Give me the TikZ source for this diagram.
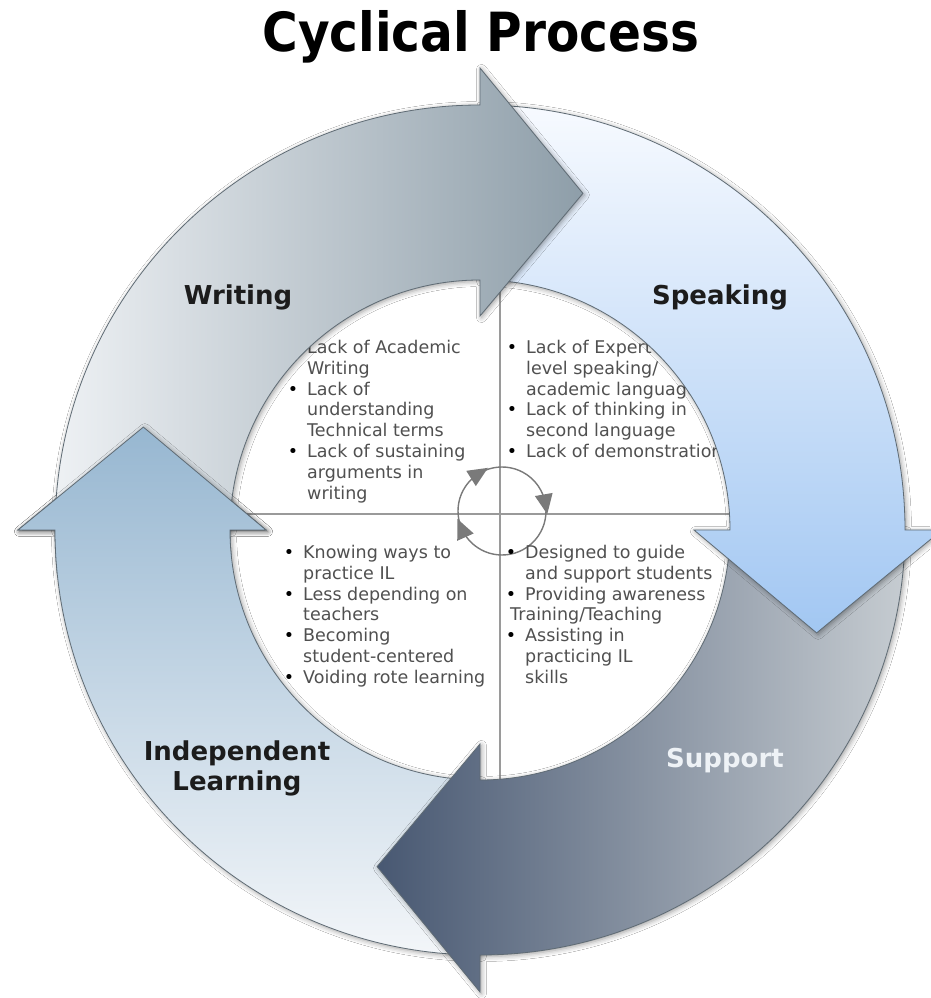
\documentclass[tikz,border=0pt]{standalone}
\usepackage{fontspec}
\setmainfont{DejaVu Sans}
\newfontfamily\titlefont{DejaVu Sans Condensed}
\usetikzlibrary{shadows.blur,calc}
\definecolor{outl}{HTML}{5F6B74}
\definecolor{bodytxt}{HTML}{505050}
\definecolor{lbltxt}{HTML}{1C1C1C}
\definecolor{sutxt}{HTML}{EEF2F6}
\definecolor{wrL}{HTML}{EEF1F4}
\definecolor{wrR}{HTML}{8E9EA9}
\definecolor{spT}{HTML}{F7FAFF}
\definecolor{spB}{HTML}{A2C7F2}
\definecolor{suL}{HTML}{485872}
\definecolor{suR}{HTML}{C6CCD1}
\definecolor{ilT}{HTML}{97B7D1}
\definecolor{ilB}{HTML}{F3F6F9}
\definecolor{crossc}{HTML}{9A9A9A}
\definecolor{cycc}{HTML}{7A7A7A}
\newcommand\bl{\llap{\textcolor{black}{•}\hspace{9pt}}}
\begin{document}
\begin{tikzpicture}[x=1pt,y=1pt,
  arrowshape/.style 2 args={insert path={(#1:425) arc[start angle=#1,end angle=#2,radius=425] -- (#2:462) -- ({#2-17}:352) -- (#2:214) -- (#2:250) arc[start angle=#2,end angle=#1,radius=250] -- cycle}},
  softshadow/.style={blur shadow={shadow xshift=1.5pt, shadow yshift=-1.5pt, shadow blur radius=5pt, shadow opacity=40}},
  arrowline/.style={draw=outl, line width=0.8pt},
  arrowbase/.style={arrowline, softshadow},
  wrarrow/.style={arrowbase, left color=wrL, right color=wrR},
  sparrow/.style={arrowbase, top color=spT, bottom color=spB},
  suarrow/.style={arrowbase, left color=suL, right color=suR},
  ilfill/.style={arrowline, top color=ilT, bottom color=ilB},
  ilarrow/.style={ilfill, softshadow},
  body/.style={anchor=base west, inner sep=0pt, font=\fontsize{17.5}{21}\selectfont, text=bodytxt},
  lbl/.style={font=\fontsize{26}{30}\selectfont\bfseries, align=center, text=lbltxt, inner sep=0pt},
  cyctri/.style={fill=cycc, draw=none},
]
\useasboundingbox (-480,-468) rectangle (450,530);
\fill[white] (-480,-468) rectangle (450,530);

% title
\node[anchor=base, inner sep=0pt, font=\titlefont\bfseries\fontsize{54}{60}\selectfont] (title) at (1,478) {Cyclical Process};

% cross lines
\draw[crossc, line width=1.5pt] (-249,16) -- (249,16);
\draw[crossc, line width=1.5pt] (20,249) -- (20,-249);

% small cycle
\coordinate (cc) at (22,19);
\draw[cycc, line width=1.4pt] (cc) circle[radius=44];
\foreach \a in {122,10,204}{
  \begin{scope}[shift={(cc)}, rotate=\a]
    \fill[cyctri] (35,9) -- (53,9) -- (44,-11) -- cycle;
  \end{scope}
}

% quadrant texts
\foreach \t [count=\i from 0] in {{\bl Lack of Academic},{Writing},{\bl Lack of},{understanding},{Technical terms},{\bl Lack of sustaining},{arguments in},{writing}}
  \node[body] (qa\i) at (-173,{176.5-20.8*\i}) {\t};
\foreach \t [count=\i from 0] in {{\bl Lack of Expert},{level speaking/},{academic language},{\bl Lack of thinking in},{second language},{\bl Lack of demonstration}}
  \node[body] (qb\i) at (46,{176.5-20.8*\i}) {\t};
\foreach \t [count=\i from 0] in {{\bl Knowing ways to},{practice IL},{\bl Less depending on},{teachers},{\bl Becoming},{student-centered},{\bl Voiding rote learning}}
  \node[body] (qc\i) at (-177,{-28.5-20.8*\i}) {\t};
\foreach \t [count=\i from 0] in {{\bl Designed to guide},{and support students},{\bl Providing awareness},{\hspace*{-15pt}Training/Teaching},{\bl Assisting in},{practicing IL},{skills}}
  \node[body] (qd\i) at (45,{-28.5-20.8*\i}) {\t};

% arrows
\path[ilarrow, arrowshape={-90}{-180}];
\path[suarrow, arrowshape={0}{-90}];
\path[sparrow, arrowshape={90}{0}];
\path[wrarrow, arrowshape={180}{90}];
% shadow of the Independent Learning head over the Writing band
\path[softshadow] (180:462) -- (163:352) -- (180:214) -- cycle;
\begin{scope}
  \clip (0,0) -- (150:620) arc[start angle=150,end angle=186,radius=620] -- cycle;
  \path[ilfill, arrowshape={-90}{-180}];
\end{scope}

% labels
\node[lbl] (lwr) at (-242,233) {Writing};
\node[lbl] (lsp) at (240,233) {Speaking};
\node[lbl, text=sutxt] (lsu) at (245,-231) {Support};
\node[lbl] (lil) at (-243,-238) {Independent\\Learning};
\end{tikzpicture}
\end{document}
